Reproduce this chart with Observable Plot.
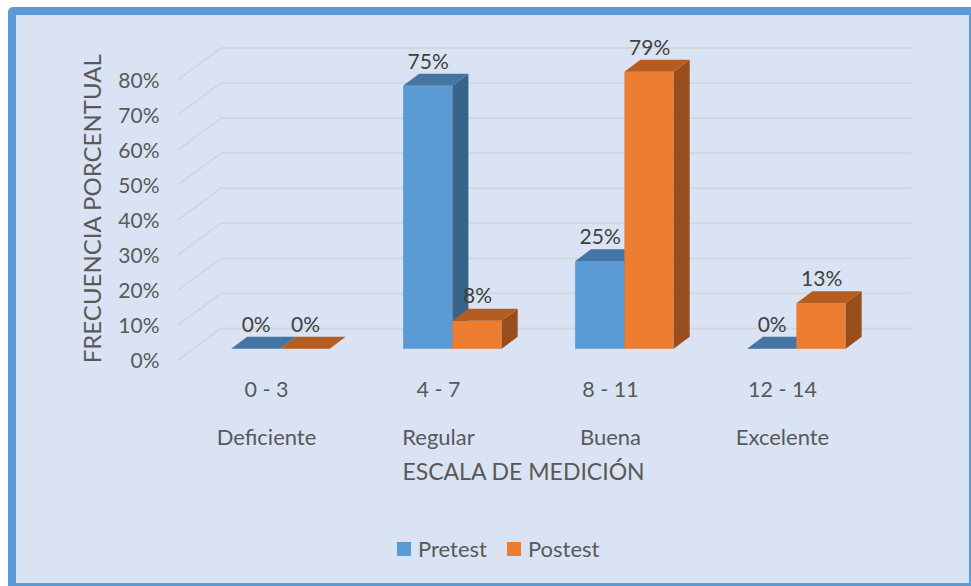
<!DOCTYPE html>
<html>
<head>
<meta charset="utf-8">
<script src="https://cdn.jsdelivr.net/npm/d3@7"></script>
<script src="https://cdn.jsdelivr.net/npm/@observablehq/plot@0.6"></script>
<style>
  html, body { margin: 0; padding: 0; background: #ffffff; width: 971px; height: 586px; overflow: hidden; }
  #frame { position: absolute; left: 8px; top: 7px; width: 969px; height: 584px; box-sizing: border-box;
           border: 8px solid #5b9bd5; border-radius: 5px; background: #dae3f3; }
  #chart { position: absolute; left: 0; top: 0; }
  #legend { position: absolute; left: 397px; top: 535px; display: flex; align-items: center;
            font-family: Lato, "Open Sans", sans-serif; font-size: 22px; color: #595959; }
  #legend .item { display: flex; align-items: center; margin-right: 20px; }
  #legend .sw { width: 14px; height: 14px; margin-right: 7px; }
</style>
</head>
<body>
<div id="frame"></div>
<div id="chart"></div>
<div id="legend"></div>
<script>
// ---- data ----
const categories = ["0 - 3", "4 - 7", "8 - 11", "12 - 14"];
const levels = ["Deficiente", "Regular", "Buena", "Excelente"];
const series = ["Pretest", "Postest"];
const pretest = [0.00, 0.75, 0.25, 0.00];
const postest = [0.00, 0.08, 0.79, 0.13];
const yTicks = [0, 0.1, 0.2, 0.3, 0.4, 0.5, 0.6, 0.7, 0.8];
const yTitle = "FRECUENCIA PORCENTUAL";
const xTitle = "ESCALA DE MEDICIÓN";

const colors = {
  Pretest: {front: "#5b9bd5", top: "#4575a3", side: "#37648a"},
  Postest: {front: "#ed7d31", top: "#b55c20", side: "#974d1c"}
};

const rows = [];
categories.forEach((c, i) => {
  rows.push({category: c, series: "Pretest", value: pretest[i]});
  rows.push({category: c, series: "Postest", value: postest[i]});
});

// 3D projection constants (pixels)
const FRONT = {dx: -43, dy: 31.6};     // floor front edge vs back wall
const BAR = {dx: -27.6, dy: 20.3};     // bar front plane vs back wall
const DEPTH = {dx: 16, dy: -12};       // bar depth
const BAR_FRAC = 0.2865;               // bar width / band width

const pct = d3.format(".0%");
const font = "Lato, 'Open Sans', sans-serif";

function walls(index, scales) {
  const {x, y} = scales;
  const [x0, x1] = x.range();
  const g = d3.create("svg:g");
  for (const t of yTicks) {
    g.append("path")
      .attr("d", `M${x0 + FRONT.dx},${y(t) + FRONT.dy}L${x0},${y(t)}L${x1},${y(t)}`)
      .attr("fill", "none").attr("stroke", "#d3d5d9").attr("stroke-width", 1.8);
  }
  return g.node();
}

function bars3d(index, scales) {
  const {x, y} = scales;
  const bw = x.bandwidth();
  const w = bw * BAR_FRAC;
  const g = d3.create("svg:g");
  for (const r of rows) {
    const i = series.indexOf(r.series);
    const c = colors[r.series];
    const xl = x(r.category) + bw / 2 + BAR.dx + (i - 1) * w;
    const xr = xl + w;
    const yb = y(0) + BAR.dy;
    const yt = y(r.value) + BAR.dy;
    if (yb - yt > 0.5) {
      g.append("rect").attr("x", xl).attr("y", yt).attr("width", w).attr("height", yb - yt)
        .attr("fill", c.front);
      g.append("path")
        .attr("d", `M${xr},${yt}L${xr + DEPTH.dx},${yt + DEPTH.dy}L${xr + DEPTH.dx},${yb + DEPTH.dy}L${xr},${yb}Z`)
        .attr("fill", c.side);
    }
    g.append("path")
      .attr("d", `M${xl},${yt}L${xr},${yt}L${xr + DEPTH.dx},${yt + DEPTH.dy}L${xl + DEPTH.dx},${yt + DEPTH.dy}Z`)
      .attr("fill", c.top);
  }
  return g.node();
}

const barW = 172.5 * BAR_FRAC;

const chart = Plot.plot({
  width: 971,
  height: 586,
  marginLeft: 221,
  marginRight: 60,
  marginTop: 48,
  marginBottom: 257.5,
  style: {background: "transparent", fontFamily: font, color: "#595959", overflow: "visible"},
  x: {type: "band", domain: categories, padding: 0, axis: null},
  y: {domain: [0, 0.8], axis: null},
  marks: [
    walls,
    bars3d,
    // y tick labels at the front edge
    Plot.text(yTicks, {y: d => d, text: d => pct(d), frameAnchor: "left", textAnchor: "end", lineAnchor: "middle",
      dx: -62, dy: FRONT.dy + 1, fontSize: 21, fill: "#595959"}),
    // data labels
    Plot.text(rows.filter(d => d.series === "Pretest"), {x: "category", y: "value", text: d => pct(d.value),
      dx: BAR.dx - barW / 2, dy: -4.2, fontSize: 21, fill: "#404040"}),
    Plot.text(rows.filter(d => d.series === "Postest"), {x: "category", y: "value", text: d => pct(d.value),
      dx: BAR.dx + barW / 2, dy: -4.2, fontSize: 21, fill: "#404040"}),
    // category labels
    Plot.text(categories, {x: d => d, text: d => d, frameAnchor: "bottom", lineAnchor: "middle",
      dx: -42, dy: 61.5, fontSize: 21.5, fill: "#595959"}),
    Plot.text(categories, {x: d => d, text: (d, i) => levels[i], frameAnchor: "bottom", lineAnchor: "middle",
      dx: -42, dy: 108.5, fontSize: 22, fill: "#595959"}),
    // axis titles
    Plot.text([xTitle], {text: d => d, frameAnchor: "bottom", lineAnchor: "middle", dx: -43, dy: 144,
      fontSize: 23, fill: "#595959"}),
    Plot.text([yTitle], {text: d => d, frameAnchor: "left", textAnchor: "middle", lineAnchor: "middle",
      rotate: -90, dx: -128, dy: 20, fontSize: 24, fill: "#595959"})
  ]
});
document.getElementById("chart").appendChild(chart);

// legend
const legend = document.getElementById("legend");
for (const s of series) {
  const item = document.createElement("div");
  item.className = "item";
  const sw = document.createElement("div");
  sw.className = "sw";
  sw.style.background = colors[s].front;
  const label = document.createElement("span");
  label.textContent = s;
  item.appendChild(sw);
  item.appendChild(label);
  legend.appendChild(item);
}
</script>
</body>
</html>
